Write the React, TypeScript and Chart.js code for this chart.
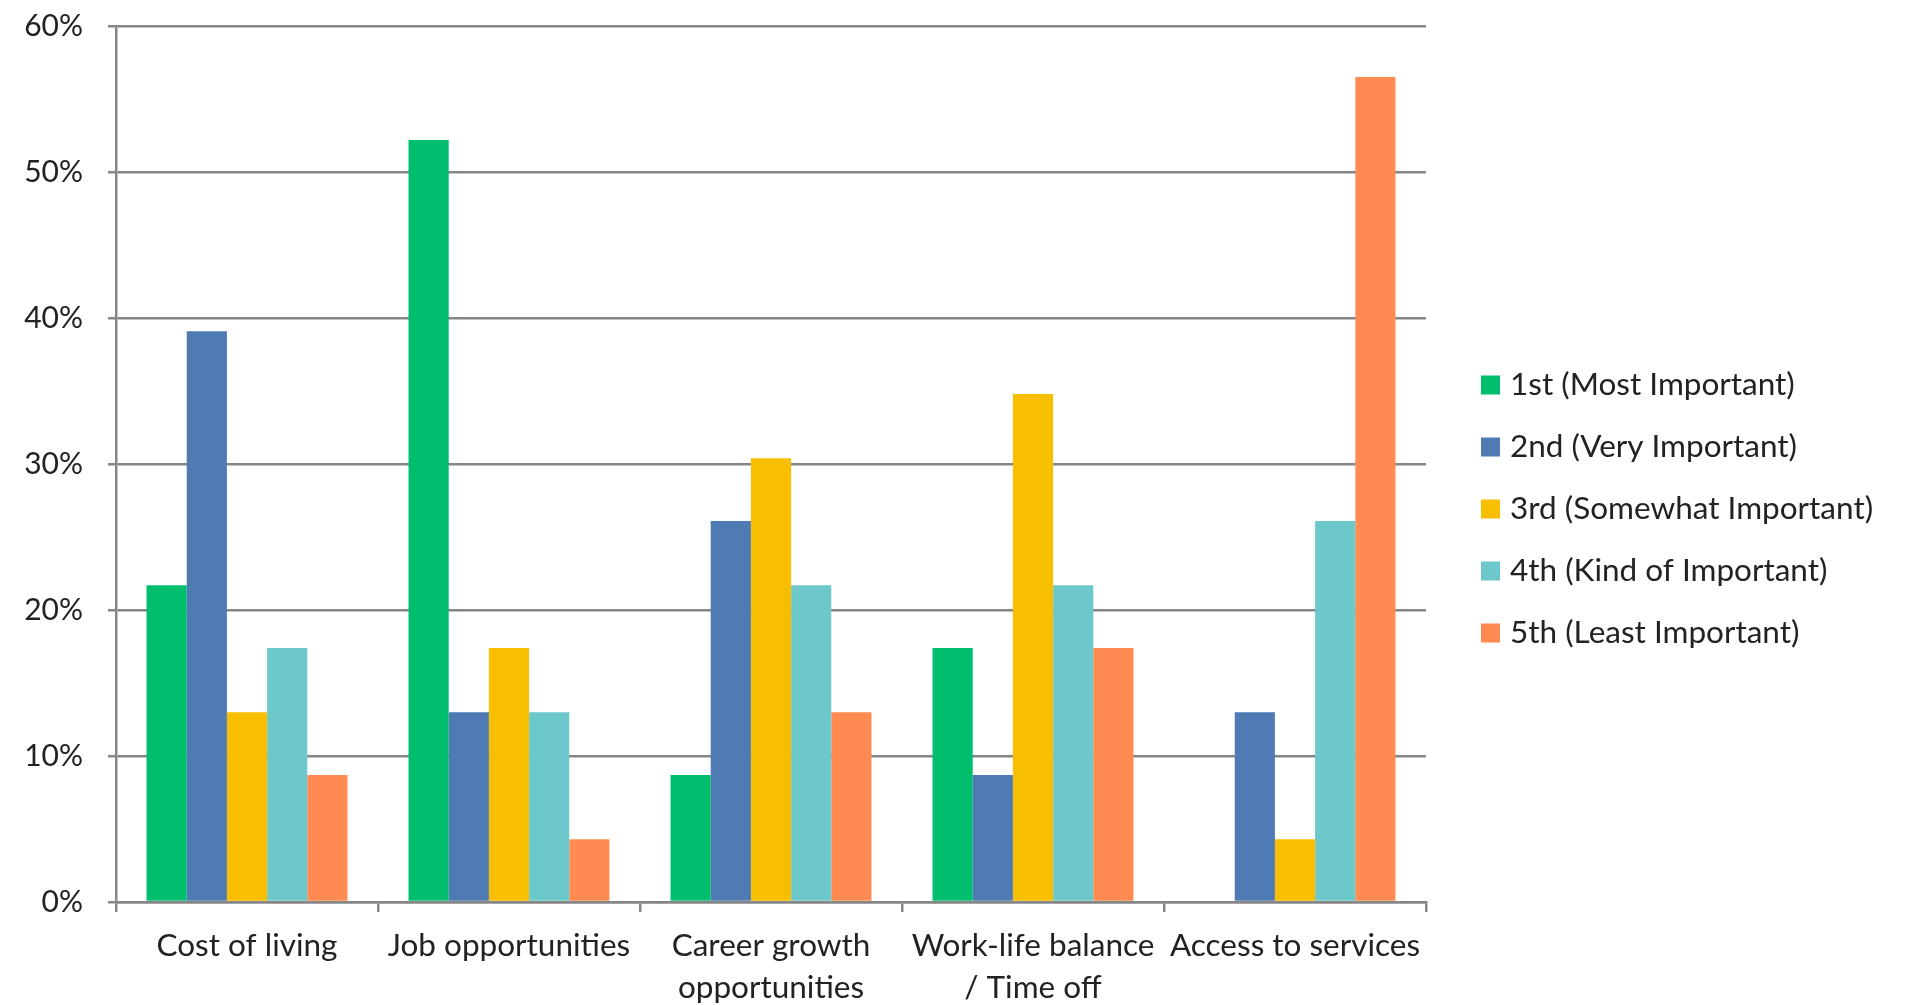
import React, { useEffect, useRef } from 'react';
import { Chart, registerables } from 'chart.js';

Chart.register(...registerables);

const categories: string[][] = [
  ['Cost of living'],
  ['Job opportunities'],
  ['Career growth', 'opportunities'],
  ['Work-life balance', '/ Time off'],
  ['Access to services'],
];

const seriesLabels = [
  '1st (Most Important)',
  '2nd (Very Important)',
  '3rd (Somewhat Important)',
  '4th (Kind of Important)',
  '5th (Least Important)',
];

const mostImportant = [21.7, 52.2, 8.7, 17.4, 0];
const veryImportant = [39.1, 13.0, 26.1, 8.7, 13.0];
const somewhatImportant = [13.0, 17.4, 30.4, 34.8, 4.3];
const kindOfImportant = [17.4, 13.0, 21.7, 21.7, 26.1];
const leastImportant = [8.7, 4.3, 13.0, 17.4, 56.5];

const yTicks = [0, 10, 20, 30, 40, 50, 60];

const colors = ['#00BE6E', '#4F7BB5', '#F8BE00', '#6DC8CB', '#FF8A52'];

const FONT = 'Lato, "Noto Sans", sans-serif';
const TEXT = '#222222';
const GRID = '#868686';

const legendPlugin = {
  id: 'customLegend',
  afterDraw(chart: any) {
    const ctx = chart.ctx;
    const ds = chart.data.datasets;
    const x0 = chart.chartArea.right + 55;
    const rowH = 62;
    const startY = chart.chartArea.top + 359;
    ctx.save();
    ctx.font = `31.5px ${FONT}`;
    ctx.textBaseline = 'middle';
    ctx.textAlign = 'left';
    ds.forEach((d: any, i: number) => {
      const y = startY + i * rowH;
      ctx.fillStyle = d.backgroundColor;
      ctx.fillRect(x0, y - 9.5, 19, 19);
      ctx.fillStyle = TEXT;
      ctx.fillText(d.label, x0 + 29, y);
    });
    ctx.restore();
  },
};

export default function App() {
  const ref = useRef<HTMLCanvasElement>(null);

  useEffect(() => {
    if (!ref.current) return;
    const series = [mostImportant, veryImportant, somewhatImportant, kindOfImportant, leastImportant];
    const chart = new Chart(ref.current, {
      type: 'bar',
      data: {
        labels: categories,
        datasets: series.map((vals, i) => ({
          label: seriesLabels[i],
          data: vals,
          backgroundColor: colors[i],
          borderWidth: 0,
          barPercentage: 1,
          categoryPercentage: 0.767,
        })),
      },
      options: {
        animation: false,
        responsive: false,
        maintainAspectRatio: false,
        layout: { padding: { top: 26, right: 495, bottom: 0, left: 0 } },
        plugins: {
          legend: { display: false },
          tooltip: { enabled: false },
        },
        scales: {
          x: {
            grid: {
              offset: true,
              drawOnChartArea: false,
              drawTicks: true,
              tickLength: 10,
              color: GRID,
              lineWidth: 2.5,
            },
            border: { display: true, color: GRID, width: 2.5 },
            ticks: {
              color: TEXT,
              font: { family: FONT, size: 31.5, lineHeight: '42px' as any },
              padding: 12.5,
              maxRotation: 0,
              autoSkip: false,
            },
            afterFit(scale: any) {
              scale.height = 103;
            },
          },
          y: {
            min: 0,
            max: 60,
            afterBuildTicks(scale: any) {
              scale.ticks = yTicks.map((v) => ({ value: v }));
            },
            grid: {
              color: GRID,
              lineWidth: 2.5,
              tickLength: 8,
              drawTicks: true,
            },
            border: { display: true, color: GRID, width: 2.5 },
            ticks: {
              color: TEXT,
              font: { family: FONT, size: 30 },
              padding: 25,
              callback: (v: any) => `${v}%`,
            },
            afterFit(scale: any) {
              scale.width = 116;
              scale.paddingTop = 0;
              scale.paddingBottom = 0;
            },
          },
        },
      },
      plugins: [legendPlugin],
    });
    return () => chart.destroy();
  }, []);

  return (
    <div style={{ position: 'fixed', left: 0, top: 0, width: 1921, height: 1005, background: '#fff' }}>
      <canvas ref={ref} width={1921} height={1005} style={{ width: 1921, height: 1005, display: 'block' }} />
    </div>
  );
}
